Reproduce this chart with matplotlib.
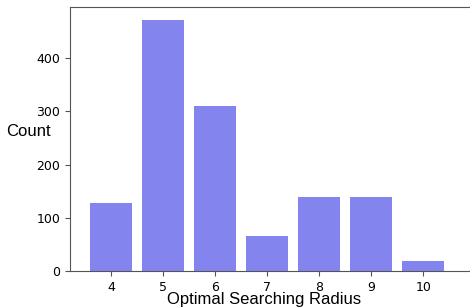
import matplotlib
matplotlib.use('Agg')
import matplotlib.pyplot as plt

radius = [4, 5, 6, 7, 8, 9, 10]
counts = [128, 472, 310, 66, 139, 139, 19]

fig = plt.figure(figsize=(4.7, 3.08), dpi=100)
ax = fig.add_axes([0.149, 0.120, 0.851, 0.857])

ax.bar(radius, counts, width=0.8, color='#8484EF')
ax.set_xlim(3.21, 10.9)
ax.set_ylim(0, 496)
ax.set_xticks(radius)
ax.set_yticks([0, 100, 200, 300, 400])
ax.spines['right'].set_visible(False)
for s in ['left', 'top', 'bottom']:
    ax.spines[s].set_color('#555555')
ax.tick_params(labelsize=9, color='#555555')

ax.set_xlabel('Optimal Searching Radius', fontsize=12, family='Liberation Sans', va='center')
ax.xaxis.set_label_coords(0.485, -0.107)
ax.set_ylabel('Count', fontsize=12, family='Liberation Sans', rotation=0, ha='center', va='center')
ax.yaxis.set_label_coords(-0.105, 0.527)

fig.savefig('out.png', dpi=100)
